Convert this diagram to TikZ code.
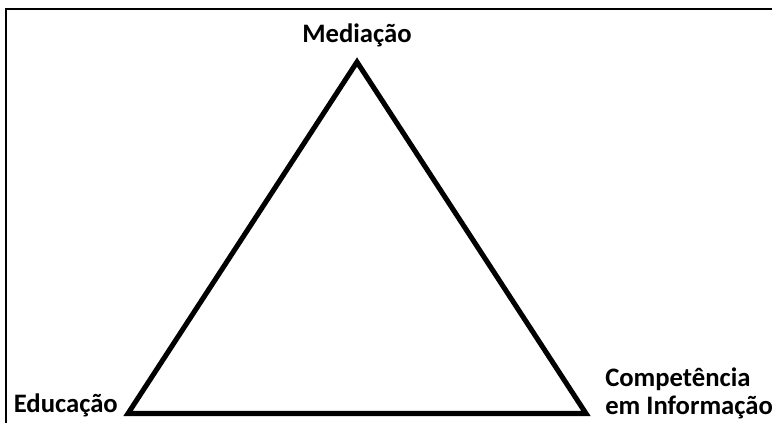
\documentclass[tikz,border=0pt]{standalone}
\usepackage{fontspec}
\setmainfont{Carlito}
\usetikzlibrary{positioning}

\begin{document}
\begin{tikzpicture}[x=0.75pt,y=-0.75pt,
  every node/.style={font=\fontsize{20}{21}\selectfont\bfseries},
  vlabel/.style={inner sep=0pt, anchor=base},
  frame/.style={line width=1.6pt},
  tri/.style={line width=3.8pt, line join=miter}]

\useasboundingbox (0,0) rectangle (772,423);
\draw [frame] (6,423) |- (772,9);

% vertices of the triangle
\coordinate (apex) at (357,62);
\coordinate (base1) at (128,413.5);
\coordinate (base2) at (586,413.5);

\node (med) [vlabel] at (357,43) {Mediação};
\node (edu) [vlabel, anchor=base east] at (118,413) {Educação};
\node (comp) [vlabel, anchor=base west, align=left] at (605,415)
  {Competência\\em Informação};

\draw [tri] (base1) -- (apex) -- (base2) -- cycle;

\end{tikzpicture}
\end{document}
